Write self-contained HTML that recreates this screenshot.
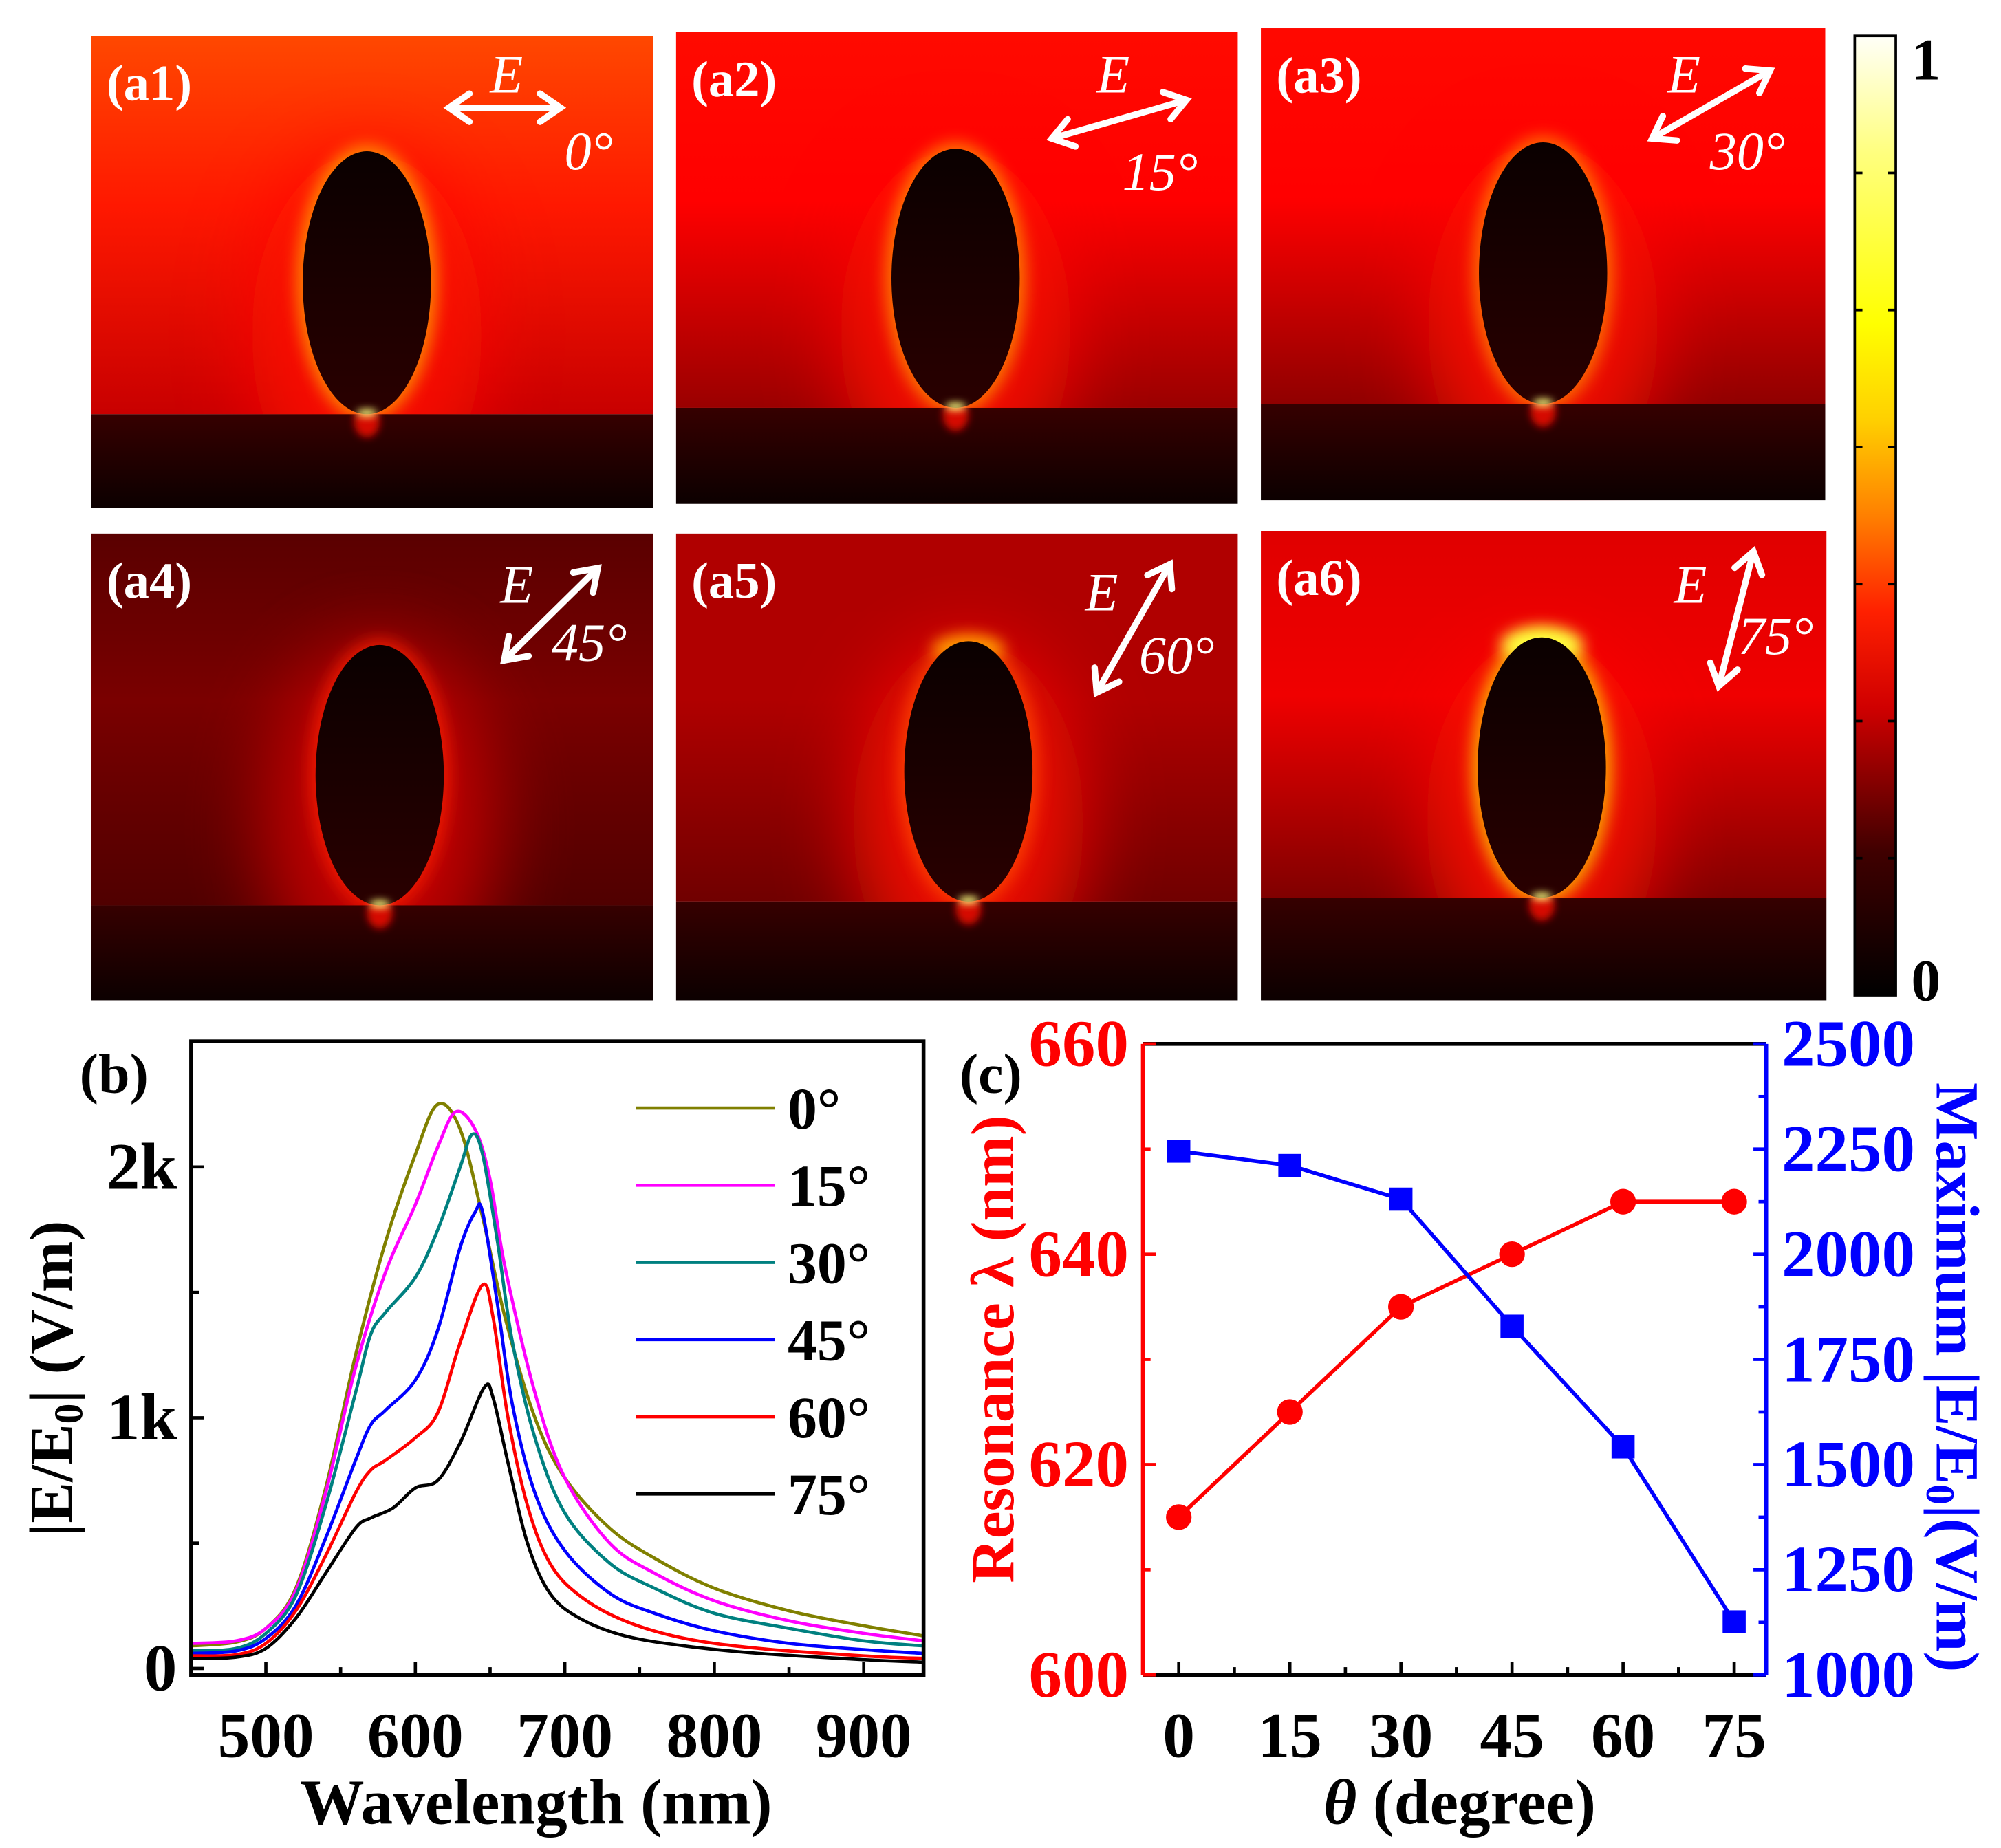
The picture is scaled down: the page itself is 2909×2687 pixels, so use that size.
<!DOCTYPE html>
<html><head><meta charset="utf-8"><style>
html,body{margin:0;padding:0;background:#fff;}
svg{display:block;}
text{font-family:"Liberation Serif","Times New Roman",serif;}
</style></head><body>
<svg id="fig" xmlns="http://www.w3.org/2000/svg" width="2909" height="2687" viewBox="0 0 1560 1441" font-family="Liberation Serif, serif">
<defs>
<linearGradient id="cbar" x1="0" y1="1" x2="0" y2="0">
<stop offset="0" stop-color="#000"/><stop offset="0.15" stop-color="#400000"/><stop offset="0.3" stop-color="#d00000"/><stop offset="0.4" stop-color="#ff2000"/><stop offset="0.5" stop-color="#ff8000"/><stop offset="0.6" stop-color="#ffd000"/><stop offset="0.7" stop-color="#ffff00"/><stop offset="0.88" stop-color="#ffff80"/><stop offset="1" stop-color="#fffff8"/>
</linearGradient>
<linearGradient id="sub" x1="0" y1="0" x2="0" y2="1"><stop offset="0" stop-color="#360000"/><stop offset="1" stop-color="#0c0000"/></linearGradient>
<linearGradient id="ell" x1="0" y1="0" x2="0" y2="1"><stop offset="0" stop-color="#0a0000"/><stop offset="1" stop-color="#2a0000"/></linearGradient>
<filter id="blur20" x="-1" y="-1" width="3" height="3"><feGaussianBlur stdDeviation="30"/></filter>
<filter id="blur8" x="-1" y="-1" width="3" height="3"><feGaussianBlur stdDeviation="6"/></filter>
<filter id="blur4" x="-1" y="-1" width="3" height="3"><feGaussianBlur stdDeviation="3"/></filter>
</defs>
<g id="maps"></g>
<g id="colorbar">
<rect x="1446" y="28" width="32" height="748" fill="url(#cbar)" stroke="#000" stroke-width="2"/>
<text x="1490" y="62" font-size="46" font-weight="bold">1</text>
<text x="1490" y="780" font-size="46" font-weight="bold">0</text>
</g>
<g id="chartB"></g>
<g id="chartC"></g>
</svg>
<script>
// ---------- Chart (b) data ----------
const bSeriesNames = ["0°","15°","30°","45°","60°","75°"];
const bColors = ["#808000","#ff00ff","#008080","#0000ff","#ff0000","#000000"];
const bX0 = [450,480,500,520,540,560,580,600,615,630,645,660,680,700,730,760,800,850,900,940];
const bY0 = [90,105,160,320,720,1250,1700,2050,2250,2150,1800,1400,1000,760,560,440,320,230,170,130];
const bX15 = [450,480,500,520,540,560,580,600,615,627,640,650,660,680,700,730,760,800,850,900,940];
const bY15 = [100,110,160,310,700,1200,1580,1850,2080,2220,2150,1950,1600,1100,760,500,380,270,190,140,110];
const bX30 = [450,480,500,520,540,560,570,580,600,615,630,638,645,655,665,680,700,730,760,800,850,900,940];
const bY30 = [70,80,140,290,650,1100,1330,1420,1560,1750,2000,2130,2050,1700,1300,920,620,420,320,220,160,110,90];
const bX45 = [450,480,500,520,540,560,570,580,600,615,630,640,645,655,665,680,700,730,760,800,850,900,940];
const bY45 = [60,70,120,250,520,830,970,1030,1150,1350,1680,1820,1820,1450,1050,700,470,300,220,150,100,75,60];
const bX60 = [450,480,500,520,540,560,570,580,600,615,630,645,652,662,675,690,710,740,780,830,900,940];
const bY60 = [50,55,100,230,450,700,790,830,920,1020,1300,1530,1400,1000,650,420,290,190,120,80,50,40];
const bX75 = [450,480,500,520,540,560,570,585,600,615,630,646,652,662,675,690,710,740,780,830,900,940];
const bY75 = [40,45,80,200,380,560,600,640,720,750,900,1120,1080,820,500,300,200,130,90,60,35,25];
const bXTicks = [500,600,700,800,900];
const bYTicks = [0,1000,2000];
const bYTickLabels = ["0","1k","2k"];

// ---------- Chart (c) data ----------
const cAngles = [0,15,30,45,60,75];
const cResonance = [615,625,635,640,645,645];
const cMaxField = [2245,2211,2131,1829,1542,1126];
const cLeftTicks = [600,620,640,660];
const cRightTicks = [1000,1250,1500,1750,2000,2250,2500];

const NS="http://www.w3.org/2000/svg";
function mk(tag,attrs,parent){const e=document.createElementNS(NS,tag);for(const k in attrs)e.setAttribute(k,attrs[k]);if(parent)parent.appendChild(e);return e;}

// ---------- Field maps ----------
const maps=document.getElementById('maps');
const panels=[
 {lab:"(a1)",x:71,y:28,w:438,h:368,cx:286,top:118,bot:323,sub:323,top1:"#ff4800",mid:"#ff1800",side:"#c80000",glow:"#ffb000",ax1:350,ay1:84,ax2:437,ay2:84,ex:382,ey:72,tx:440,ty:132,tl:"0°"},
 {lab:"(a2)",x:527,y:25,w:438,h:368,cx:745,top:116,bot:318,sub:318,top1:"#ff0a00",mid:"#ff0000",side:"#9a0000",glow:"#ffa000",ex:855,ey:72,ax1:820,ay1:108,ax2:925,ay2:78,tx:875,ty:148,tl:"15°"},
 {lab:"(a3)",x:983,y:22,w:440,h:368,cx:1203,top:111,bot:315,sub:315,top1:"#ff0800",mid:"#ff0000",side:"#900000",glow:"#ff9000",ex:1300,ey:72,ax1:1288,ay1:108,ax2:1380,ay2:55,tx:1333,ty:132,tl:"30°"},
 {lab:"(a4)",x:71,y:416,w:438,h:364,cx:296,top:503,bot:706,sub:706,top1:"#5a0000",mid:"#7a0000",side:"#500000",glow:"#ff2000",ex:390,ey:470,ax1:393,ay1:515,ax2:466,ay2:443,tx:430,ty:515,tl:"45°"},
 {lab:"(a5)",x:527,y:416,w:438,h:364,cx:755,top:500,bot:703,sub:703,top1:"#b00000",mid:"#b00000",side:"#700000",glow:"#ff5000",ex:846,ey:476,ax1:855,ay1:540,ax2:912,ay2:440,tx:888,ty:525,tl:"60°"},
 {lab:"(a6)",x:983,y:414,w:441,h:366,cx:1202,top:497,bot:700,sub:700,top1:"#e00000",mid:"#f00000",side:"#800000",glow:"#ffe000",ex:1305,ey:470,ax1:1340,ay1:535,ax2:1367,ay2:430,tx:1355,ty:510,tl:"75°"}
];
panels.forEach((p,i)=>{
 const g=mk('g',{},maps);
 
 
 const cid='clip'+i;
 const cp=mk('clipPath',{id:cid},g);mk('rect',{x:p.x,y:p.y,width:p.w,height:p.h},cp);
 const gid='bg'+i;
 const lg=mk('linearGradient',{id:gid,x1:0,y1:0,x2:0,y2:1},g);
 mk('stop',{offset:0,'stop-color':p.top1},lg);mk('stop',{offset:0.45,'stop-color':p.mid},lg);mk('stop',{offset:1,'stop-color':p.side},lg);
 const inner=mk('g',{'clip-path':'url(#'+cid+')'},g);
 mk('rect',{x:p.x,y:p.y,width:p.w,height:p.sub-p.y,fill:'url(#'+gid+')'},inner);
 const ry=(p.bot-p.top)/2, cy=(p.bot+p.top)/2;
 mk('ellipse',{cx:p.cx,cy:cy+40,rx:90,ry:ry+40,fill:i===3?"#d00000":"#ff0800",filter:'url(#blur20)',opacity:0.85},inner);
 mk('ellipse',{cx:p.cx,cy:cy,rx:55,ry:ry+5,fill:p.glow,filter:'url(#blur8)',opacity:0.7},inner);
 if(i===5) mk('ellipse',{cx:p.cx,cy:p.top+6,rx:32,ry:14,fill:'#ffff40',filter:'url(#blur8)'},inner);
 if(i===4) mk('ellipse',{cx:p.cx,cy:p.top+6,rx:28,ry:10,fill:'#ffa000',filter:'url(#blur8)'},inner);
 mk('rect',{x:p.x,y:p.sub,width:p.w,height:p.y+p.h-p.sub,fill:'url(#sub)'},inner);
 mk('ellipse',{cx:p.cx,cy:p.sub+6,rx:10,ry:12,fill:'#ff1000',filter:'url(#blur4)',opacity:0.8},inner);
 const pe=mk('ellipse',{cx:p.cx,cy:cy,rx:50,ry:ry,fill:'url(#ell)'},inner);
 
 
 mk('ellipse',{cx:p.cx,cy:p.bot-1,rx:8,ry:3,fill:'#ffff80',filter:'url(#blur4)'},inner);
 const lt=mk('text',{x:p.x+12,y:p.y+50,'font-size':40,'font-weight':'bold',fill:'#fff'},g);lt.textContent=p.lab;
 
 
 const et=mk('text',{x:p.ex,y:p.ey,'font-size':42,'font-style':'italic',fill:'#fff'},g);et.textContent="E";
 
 
 const at=mk('text',{x:p.tx,y:p.ty,'font-size':42,'font-style':'italic',fill:'#fff'},g);at.textContent=p.tl;
 
 
 const arr=mk('g',{stroke:'#fff','stroke-width':5,fill:'none','stroke-linecap':'round'},g);
 
 
 mk('line',{x1:p.ax1,y1:p.ay1,x2:p.ax2,y2:p.ay2},arr);
 const dx=p.ax2-p.ax1,dy=p.ay2-p.ay1,L=Math.hypot(dx,dy),ux=dx/L,uy=dy/L,h=16,w=11;
 [[p.ax2,p.ay2,1],[p.ax1,p.ay1,-1]].forEach(([x,y,s])=>{
   const bx=x-s*ux*h,by=y-s*uy*h;
   mk('polyline',{points:`${bx-uy*w},${by+ux*w} ${x},${y} ${bx+uy*w},${by-ux*w}`},arr);
 });
});
const cb=document.getElementById('colorbar');
for(let k=1;k<7;k++){const y=28+748*k/7;mk('line',{x1:1446,y1:y,x2:1452,y2:y,stroke:'#000','stroke-width':2},cb);mk('line',{x1:1472,y1:y,x2:1478,y2:y,stroke:'#000','stroke-width':2},cb);}

// ---------- Chart (b) ----------
const B=document.getElementById('chartB');
const bL=149,bR=720,bT=812,bB=1306;
const bxs=v=>bL+(v-450)/(940-450)*(bR-bL);
const bys=v=>1301-v*0.1955;
function smooth(pts){let d=`M${pts[0][0]},${pts[0][1]}`;for(let i=0;i<pts.length-1;i++){const p0=pts[i-1]||pts[i],p1=pts[i],p2=pts[i+1],p3=pts[i+2]||p2;const c1=[p1[0]+(p2[0]-p0[0])/6,p1[1]+(p2[1]-p0[1])/6],c2=[p2[0]-(p3[0]-p1[0])/6,p2[1]-(p3[1]-p1[1])/6];d+=` C${c1[0]},${c1[1]} ${c2[0]},${c2[1]} ${p2[0]},${p2[1]}`;}return d;}
const bData=[[bX0,bY0],[bX15,bY15],[bX30,bY30],[bX45,bY45],[bX60,bY60],[bX75,bY75]];
bData.forEach(([xs,ys],i)=>{
 const pts=xs.map((x,j)=>[bxs(x),bys(ys[j])]);
 const path=mk('path',{d:smooth(pts),fill:'none',stroke:bColors[i],'stroke-width':2.5},B);
 
 
 const ly=864+i*60.2;
 const ll=mk('line',{x1:496,y1:ly,x2:604,y2:ly,stroke:bColors[i],'stroke-width':2.5},B);
 
 
 const lt=mk('text',{x:614,y:ly+16,'font-size':46,'font-weight':'bold'},B);lt.textContent=bSeriesNames[i];
 
 
});
mk('rect',{x:bL,y:bT,width:bR-bL,height:bB-bT,fill:'none',stroke:'#000','stroke-width':3},B);
for(let v=450;v<=940;v+=50){const x=bxs(v);const big=v%100===0;mk('line',{x1:x,y1:bB,x2:x,y2:bB-(big?10:6),stroke:'#000','stroke-width':2.5},B);}
bXTicks.forEach(v=>{const t=mk('text',{x:bxs(v),y:1370,'font-size':50,'font-weight':'bold','text-anchor':'middle'},B);t.textContent=v;
 });
for(let v=0;v<=2500;v+=500){const y=bys(v);mk('line',{x1:bL,y1:y,x2:bL+(v%1000===0?10:6),y2:y,stroke:'#000','stroke-width':2.5},B);}
bYTicks.forEach((v,i)=>{const t=mk('text',{x:138,y:bys(v)+17,'font-size':52,'font-weight':'bold','text-anchor':'end'},B);t.textContent=bYTickLabels[i];
 });
let t=mk('text',{x:418,y:1422,'font-size':50,'font-weight':'bold','text-anchor':'middle'},B);t.textContent="Wavelength (nm)";

t=mk('text',{x:0,y:0,'font-size':48,'font-weight':'bold','text-anchor':'middle',transform:'translate(56,1075) rotate(-90)'},B);
t.innerHTML='|E/E<tspan font-size="32" dy="8">0</tspan><tspan dy="-8">| (V/m)</tspan>';

t=mk('text',{x:62,y:852,'font-size':44,'font-weight':'bold'},B);t.textContent="(b)";


// ---------- Chart (c) ----------
const C=document.getElementById('chartC');
const cL=891,cR=1377,cT=814,cB=1306;
const cxs=v=>919+v/75*(1352-919);
const cyl=v=>cB-(v-600)/60*(cB-cT);
const cyr=v=>cB-(v-1000)/1500*(cB-cT);
mk('line',{x1:cL,y1:cT,x2:cR,y2:cT,stroke:'#000','stroke-width':3},C);
mk('line',{x1:cL,y1:cB,x2:cR,y2:cB,stroke:'#000','stroke-width':3},C);
mk('line',{x1:cL,y1:cT,x2:cL,y2:cB,stroke:'#ff0000','stroke-width':3},C);
mk('line',{x1:cR,y1:cT,x2:cR,y2:cB,stroke:'#0000ff','stroke-width':3},C);
for(let v=0;v<=75;v+=7.5){const x=cxs(v);mk('line',{x1:x,y1:cB,x2:x,y2:cB-(v%15===0?10:6),stroke:'#000','stroke-width':2.5},C);}
for(let v=600;v<=660;v+=10){const y=cyl(v);mk('line',{x1:cL,y1:y,x2:cL+(v%20===0?10:6),y2:y,stroke:'#ff0000','stroke-width':2.5},C);}
for(let v=1000;v<=2500;v+=125){const y=cyr(v);mk('line',{x1:cR,y1:y,x2:cR-(v%250===0?10:6),y2:y,stroke:'#0000ff','stroke-width':2.5},C);}
cAngles.forEach(v=>{const t=mk('text',{x:cxs(v),y:1370,'font-size':50,'font-weight':'bold','text-anchor':'middle'},C);t.textContent=v;
 });
cLeftTicks.forEach(v=>{const t=mk('text',{x:880,y:cyl(v)+17,'font-size':52,'font-weight':'bold','text-anchor':'end',fill:'#ff0000'},C);t.textContent=v;
 });
cRightTicks.forEach(v=>{const t=mk('text',{x:1389,y:cyr(v)+17,'font-size':52,'font-weight':'bold',fill:'#0000ff'},C);t.textContent=v;
 });
const rp=mk('polyline',{points:cAngles.map((a,i)=>cxs(a)+','+cyl(cResonance[i])).join(' '),fill:'none',stroke:'#ff0000','stroke-width':3},C);

const bp=mk('polyline',{points:cAngles.map((a,i)=>cxs(a)+','+cyr(cMaxField[i])).join(' '),fill:'none',stroke:'#0000ff','stroke-width':3},C);

cAngles.forEach((a,i)=>{
 const c=mk('circle',{cx:cxs(a),cy:cyl(cResonance[i]),r:10,fill:'#ff0000'},C);
 
 const s=mk('rect',{x:cxs(a)-9,y:cyr(cMaxField[i])-9,width:18,height:18,fill:'#0000ff'},C);
 
});
t=mk('text',{x:1138,y:1422,'font-size':50,'font-weight':'bold','text-anchor':'middle'},C);
t.innerHTML='<tspan font-style="italic">θ</tspan> (degree)';

t=mk('text',{x:0,y:0,'font-size':48,'font-weight':'bold','text-anchor':'middle',fill:'#ff0000',transform:'translate(790,1052) rotate(-90)'},C);
t.textContent="Resonance λ (nm)";

t=mk('text',{x:0,y:0,'font-size':48,'font-weight':'bold','text-anchor':'middle',fill:'#0000ff',transform:'translate(1510,1074) rotate(90)'},C);
t.innerHTML='Maximum |E/E<tspan font-size="32" dy="8">0</tspan><tspan dy="-8">|(V/m)</tspan>';

t=mk('text',{x:748,y:852,'font-size':44,'font-weight':'bold'},C);t.textContent="(c)";

</script>
</body></html>
